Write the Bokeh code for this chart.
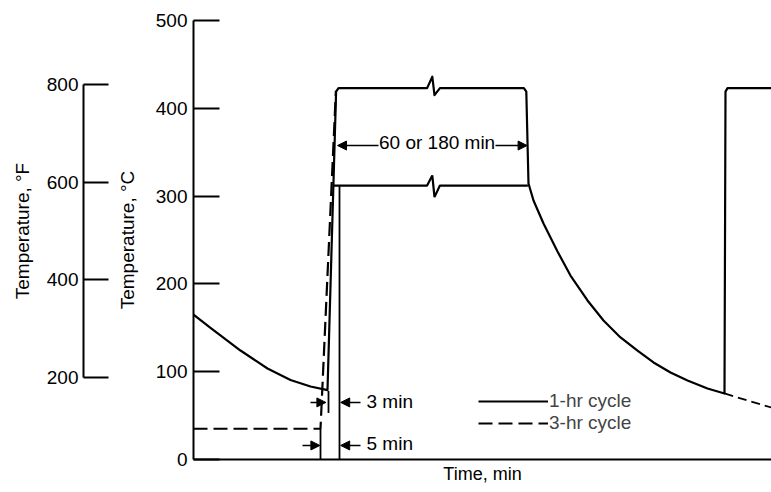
from bokeh.plotting import figure
from bokeh.models import Range1d, LinearAxis, FixedTicker, Arrow, NormalHead, Legend, LegendItem
from bokeh.core.properties import value
from bokeh.embed import file_html
from bokeh.resources import INLINE

FONT = "Liberation Sans"
FS = "19px"

# ---- axis ticks ----
c_ticks = [0, 100, 200, 300, 400, 500]          # deg C
f_ticks = [200, 400, 600, 800]                  # deg F
x_end = 144.5                                   # schematic time span, min

# ---- temperature levels, deg C ----
plateau_high = 423
plateau_low = 312
start_3hr = 35

# ---- 1-hr cycle (solid): cooling, heat-up ----
cool_a_t = [0, 4.25, 11.75, 18.5, 24.25, 29.25, 33.5]
cool_a_c = [165, 149.8, 124.1, 103.6, 90.5, 83.1, 79.1]
ramp_top_t = 35.75
# cooling after hold
cool_b_t = [83.75, 85, 87.5, 91, 94.25, 98.5, 102.5, 106.75, 111, 115, 119.25, 123.5, 128.5, 132.75]
cool_b_c = [314.4, 295, 268.8, 236.9, 209.5, 181.1, 158.3, 139, 124.1, 110.5, 99.1, 90, 80.9, 75.2]
hold_end_t = 83.0
next_rise_t = 133.0

# ---- break symbol on the plateaus ----
brk_t = [58.4, 59.7, 60.25, 61.6]
brk_high = [423, 436, 415, 423]
brk_low = [312, 323.5, 298.8, 312]

# ---- 3-hr cycle (dashed) ----
d_start_t = [0, 31.75, 35.6]
d_start_c = [35, 35, 420]
d_end_t = [132.75, 136, 144.5]
d_end_c = [75.2, 70.6, 59.2]

# ---- dimension marks ----
ext_t = [36.5, 31.75, 33.75]
ext_c0 = [0, 0, 53]
ext_c1 = [312, 35, 78]
arrow_x0 = [29.25, 41.75, 27.25, 41.75, 46.25, 75.5]
arrow_x1 = [33.1, 36.8, 31.6, 36.8, 36.0, 83.4]
arrow_y = [65, 65, 16, 16, 357.6, 357.6]
note_t = [43.25, 43.25, 60.9]
note_c = [66, 18.5, 361.4]
note_txt = ["3 min", "5 min", "60 or 180 min"]

# ---- scales: pixel-aligned ranges ----
PX_X = 4.0       # px per min
PX_Y = 0.878     # px per deg C
x0 = -193 / PX_X
x1 = x0 + 771 / PX_X
y0 = -33 / PX_Y
y1 = y0 + 492 / PX_Y

p = figure(width=771, height=492, min_border=0, output_backend="svg",
           toolbar_location=None, x_axis_type=None, y_axis_type=None,
           x_range=Range1d(x0, x1), y_range=Range1d(y0, y1))
p.outline_line_color = None
p.background_fill_color = "white"
p.extra_y_ranges = {"F": Range1d(y0 * 1.8 + 32, y1 * 1.8 + 32)}

LW = 2.2
DASH = "14 6"

# solid path: cooling -> heat-up -> high hold -> cooling -> next rise
solid_t = cool_a_t + [ramp_top_t - 0.1, ramp_top_t + 0.5] + brk_t + [hold_end_t - 0.4, hold_end_t + 0.2] + cool_b_t + [next_rise_t, next_rise_t + 0.5, x_end]
solid_c = cool_a_c + [plateau_high - 4, plateau_high] + brk_high + [plateau_high, plateau_high - 4] + cool_b_c + [plateau_high - 4, plateau_high, plateau_high]
r_solid = p.line(solid_t, solid_c, line_color="black", line_width=LW, line_join="round")

# low hold
low_t = [35.0] + brk_t + [83.6]
low_c = [plateau_low] + brk_low + [plateau_low]
p.line(low_t, low_c, line_color="black", line_width=LW)

# dashed 3-hr cycle
r_dash = p.line(d_start_t, d_start_c, line_color="black", line_width=LW, line_dash=DASH)
p.line(d_end_t, d_end_c, line_color="black", line_width=LW - 0.4, line_dash="9 5")

# extension lines
p.segment(x0=ext_t, y0=ext_c0, x1=ext_t, y1=ext_c1, line_color="black", line_width=1.8)

# dimension arrows
for xa, xb, ya in zip(arrow_x0, arrow_x1, arrow_y):
    p.add_layout(Arrow(end=NormalHead(size=9, fill_color="black", line_color="black", line_width=1),
                       x_start=xa, y_start=ya, x_end=xb, y_end=ya,
                       line_color="black", line_width=1.6))

p.text(x=note_t[:2], y=note_c[:2], text=note_txt[:2], text_font=value(FONT),
       text_font_size=FS, text_align="left", text_baseline="middle", text_color="black")
p.text(x=note_t[2:], y=note_c[2:], text=note_txt[2:], text_font=value(FONT),
       text_font_size=FS, text_align="center", text_baseline="middle", text_color="black",
       background_fill_color="white")

# legend
legend = Legend(items=[LegendItem(label="1-hr cycle", renderers=[r_solid]),
                       LegendItem(label="3-hr cycle", renderers=[r_dash])],
                location=(478, 58), glyph_width=70, glyph_height=22, label_height=22,
                label_standoff=1, spacing=0, padding=0, margin=0,
                border_line_color=None, background_fill_alpha=0,
                label_text_font=FONT, label_text_font_size=FS)
p.add_layout(legend, "center")

# axes
def style(ax):
    ax.axis_line_color = "black"
    ax.axis_line_width = 2
    ax.major_tick_line_color = "black"
    ax.major_tick_line_width = 1.8
    ax.minor_tick_line_color = None
    ax.major_label_text_font = FONT
    ax.major_label_text_font_size = FS
    ax.major_label_text_color = "black"
    ax.axis_label_text_font = FONT
    ax.axis_label_text_font_size = FS
    ax.axis_label_text_font_style = "normal"
    ax.axis_label_text_color = "black"

c_axis = LinearAxis(fixed_location=0, bounds=(0, 500), ticker=FixedTicker(ticks=c_ticks),
                    major_tick_in=26, major_tick_out=0, major_label_standoff=6,
                    axis_label="Temperature, °C", axis_label_standoff=15)
style(c_axis)
p.add_layout(c_axis, "left")

f_axis = LinearAxis(y_range_name="F", fixed_location=(83 - 193) / PX_X, bounds=(200, 800),
                    ticker=FixedTicker(ticks=f_ticks),
                    major_tick_in=25, major_tick_out=0, major_label_standoff=5,
                    axis_label="Temperature, °F", axis_label_standoff=11)
style(f_axis)
p.add_layout(f_axis, "left")

t_axis = LinearAxis(fixed_location=0, bounds=(0, x_end), ticker=FixedTicker(ticks=[]),
                    major_tick_in=0, major_tick_out=0, major_label_text_font_size="0px",
                    axis_label="Time, min", axis_label_standoff=4)
style(t_axis)
t_axis.axis_label_text_font_size = "18px"
p.add_layout(t_axis, "below")

open("out.html", "w").write(file_html(p, INLINE))
